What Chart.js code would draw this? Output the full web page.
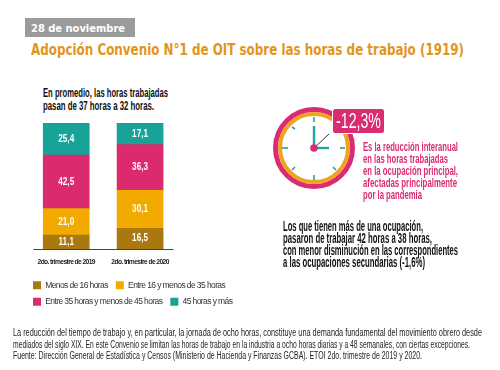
<!DOCTYPE html>
<html><head><meta charset="utf-8">
<script src="https://cdn.jsdelivr.net/npm/chart.js@4"></script>
<style>
html,body{margin:0;padding:0;background:#fff;}
#page{position:relative;width:500px;height:370px;overflow:hidden;background:#fff;}
#wrap{position:absolute;left:25px;top:100px;width:220px;height:216px;}
.t{position:absolute;white-space:nowrap;transform-origin:0 50%;line-height:1;}
.n{font-family:"Liberation Sans",sans-serif;}
#hdr{position:absolute;left:25px;top:18px;width:110px;height:19px;background:#9b9b9b;}
svg{position:absolute;left:0;top:0;}
</style></head><body>
<div id="page">
<div id="hdr"></div>
<div class="t" data-w="94" style="left:31px;top:22px;font:bold 11px 'DejaVu Sans';color:#fff;">28 de noviembre</div>
<div class="t" data-w="433" style="left:31px;top:41px;font:bold 15px 'DejaVu Sans';color:#e2951b;">Adopción Convenio N°1 de OIT sobre las horas de trabajo (1919)</div>
<div class="t n" data-w="125" style="left:43px;top:86px;font-size:13.5px;font-weight:bold;color:#111;">En promedio, las horas trabajadas</div>
<div class="t n" data-w="111" style="left:43px;top:99px;font-size:13.5px;font-weight:bold;color:#111;">pasan de 37 horas a 32 horas.</div>
<div id="wrap"><canvas id="c" width="220" height="216"></canvas></div>
<svg width="500" height="370">
<circle cx="314" cy="148" r="38.5" fill="#fff" stroke="#d92c72" stroke-width="5"/>
<circle cx="314" cy="148" r="34" fill="#fff" stroke="#f0a31c" stroke-width="4"/>
<g stroke="#1fa79b" stroke-width="1.6">
<line x1="314" y1="117" x2="314" y2="122"/><line x1="314" y1="175" x2="314" y2="180"/>
<line x1="282" y1="148" x2="288" y2="148"/><line x1="340" y1="148" x2="345" y2="148"/>
<line x1="292" y1="127" x2="295" y2="129"/><line x1="333" y1="167" x2="336" y2="170"/>
<line x1="292" y1="170" x2="295" y2="167"/>
</g>
<line x1="314" y1="148" x2="329" y2="134" stroke="#333" stroke-width="1"/>
<line x1="314" y1="148" x2="314" y2="126" stroke="#1fa79b" stroke-width="2.4"/>
<line x1="314" y1="148" x2="329" y2="148" stroke="#1fa79b" stroke-width="2.4"/>
<circle cx="314" cy="148" r="3.8" fill="#d92c72"/>
<rect x="333" y="109" width="51" height="24" rx="2.5" fill="#d92c72" stroke="#fff" stroke-width="2" paint-order="stroke"/>
</svg>
<div class="t n" data-w="45" style="left:336px;top:110px;font-size:22px;color:#fff;">-12,3%</div>
<div class="t n" data-w="95" style="left:363px;top:140px;font-size:13.5px;font-weight:bold;color:#d92c72;">Es la reducción interanual</div>
<div class="t n" data-w="85" style="left:363px;top:152px;font-size:13.5px;font-weight:bold;color:#d92c72;">en las horas trabajadas</div>
<div class="t n" data-w="95" style="left:363px;top:164px;font-size:13.5px;font-weight:bold;color:#d92c72;">en la ocupación principal,</div>
<div class="t n" data-w="94" style="left:363px;top:176px;font-size:13.5px;font-weight:bold;color:#d92c72;">afectadas principalmente</div>
<div class="t n" data-w="59" style="left:363px;top:188px;font-size:13.5px;font-weight:bold;color:#d92c72;">por la pandemia</div>
<div class="t n" data-w="140" style="left:283px;top:219px;font-size:14px;font-weight:bold;color:#111;">Los que tienen más de una ocupación,</div>
<div class="t n" data-w="149" style="left:283px;top:231px;font-size:14px;font-weight:bold;color:#111;">pasaron de trabajar 42 horas a 38 horas,</div>
<div class="t n" data-w="175" style="left:283px;top:243px;font-size:14px;font-weight:bold;color:#111;">con menor disminución en las correspondientes</div>
<div class="t n" data-w="142" style="left:283px;top:255px;font-size:14px;font-weight:bold;color:#111;">a las ocupaciones secundarias (-1,6%)</div>
<div class="t n" data-w="469" style="left:13px;top:328px;font-size:10px;color:#222;">La reducción del tiempo de trabajo y, en particular, la jornada de ocho horas, constituye una demanda fundamental del movimiento obrero desde</div>
<div class="t n" data-w="457" style="left:13px;top:340px;font-size:10px;color:#222;">mediados del siglo XIX. En este Convenio se limitan las horas de trabajo en la industria a ocho horas diarias y a 48 semanales, con ciertas excepciones.</div>
<div class="t n" data-w="409" style="left:13px;top:351px;font-size:10px;color:#222;">Fuente: Dirección General de Estadística y Censos (Ministerio de Hacienda y Finanzas GCBA). ETOI 2do. trimestre de 2019 y 2020.</div>
</div>
<script>
const categories = ["2do. trimestre de 2019", "2do. trimestre de 2020"];
const seriesNames = ["Menos de 16 horas", "Entre 16 y menos de 35 horas", "Entre 35 horas y menos de 45 horas", "45 horas y más"];
const menos16 = [11.1, 16.5];
const entre16y35 = [21.0, 30.1];
const entre35y45 = [42.5, 36.3];
const mas45 = [25.4, 17.1];
const colors = ["#a9780f", "#f2a900", "#dc2a6e", "#17a398"];

document.querySelectorAll('.t[data-w]').forEach(el => {
  const w = el.getBoundingClientRect().width;
  el.style.transform = 'scaleX(' + (parseFloat(el.dataset.w) / w) + ')';
});

const tightText = {
  id: 'tightText',
  beforeLayout(chart) { chart.ctx.letterSpacing = '-0.6px'; },
  beforeDraw(chart) { chart.ctx.letterSpacing = '-0.6px'; }
};
const valueLabels = {
  id: 'valueLabels',
  afterDatasetsDraw(chart) {
    const ctx = chart.ctx;
    chart.data.datasets.forEach((ds, i) => {
      chart.getDatasetMeta(i).data.forEach((bar, j) => {
        ctx.save();
        ctx.letterSpacing = '0px';
        ctx.fillStyle = '#fff';
        ctx.font = 'bold 10.5px "Liberation Sans"';
        ctx.textAlign = 'center';
        ctx.textBaseline = 'middle';
        ctx.translate(bar.x, (bar.y + bar.base) / 2);
        ctx.scale(0.78, 1);
        ctx.fillText(ds.data[j].toFixed(1).replace('.', ','), 0, 0);
        ctx.restore();
      });
    });
  }
};
const baseline = {
  id: 'baseline',
  afterDatasetsDraw(chart) {
    const a = chart.chartArea, ctx = chart.ctx;
    ctx.save();
    ctx.strokeStyle = '#444';
    ctx.lineWidth = 1;
    ctx.beginPath();
    ctx.moveTo(a.left + 4, a.bottom + 0.5);
    ctx.lineTo(a.right - 3.5, a.bottom + 0.5);
    ctx.stroke();
    ctx.restore();
  }
};
new Chart(document.getElementById('c'), {
  type: 'bar',
  data: {
    labels: categories,
    datasets: [menos16, entre16y35, entre35y45, mas45].map((d, i) => ({
      label: seriesNames[i], data: d, backgroundColor: colors[i], barThickness: 46
    }))
  },
  options: {
    responsive: false,
    animation: false,
    layout: { padding: { top: 23, bottom: 0 } },
    plugins: {
      tooltip: { enabled: false },
      legend: {
        position: 'bottom',
        align: 'start',
        labels: { boxWidth: 8, boxHeight: 8, padding: 8, color: '#333',
          font: { family: '"Liberation Sans"', size: 8.5 } }
      }
    },
    scales: {
      x: { stacked: true, grid: { display: false }, border: { display: false },
        ticks: { padding: 1, maxRotation: 0, autoSkip: false, color: '#222',
          font: { family: '"Liberation Sans"', size: 6.7, weight: 'bold' } },
        afterFit: s => { s.height = 24; } },
      y: { stacked: true, min: 0, max: 100, position: 'left', grid: { display: false }, border: { display: false },
        ticks: { display: false }, afterFit: s => { s.width = 4.3; } },
      pad: { type: 'linear', position: 'right', grid: { display: false }, border: { display: false },
        ticks: { display: false }, afterFit: s => { s.width = 68; } }
    }
  },
  plugins: [tightText, valueLabels, baseline]
});
</script>
</body></html>
